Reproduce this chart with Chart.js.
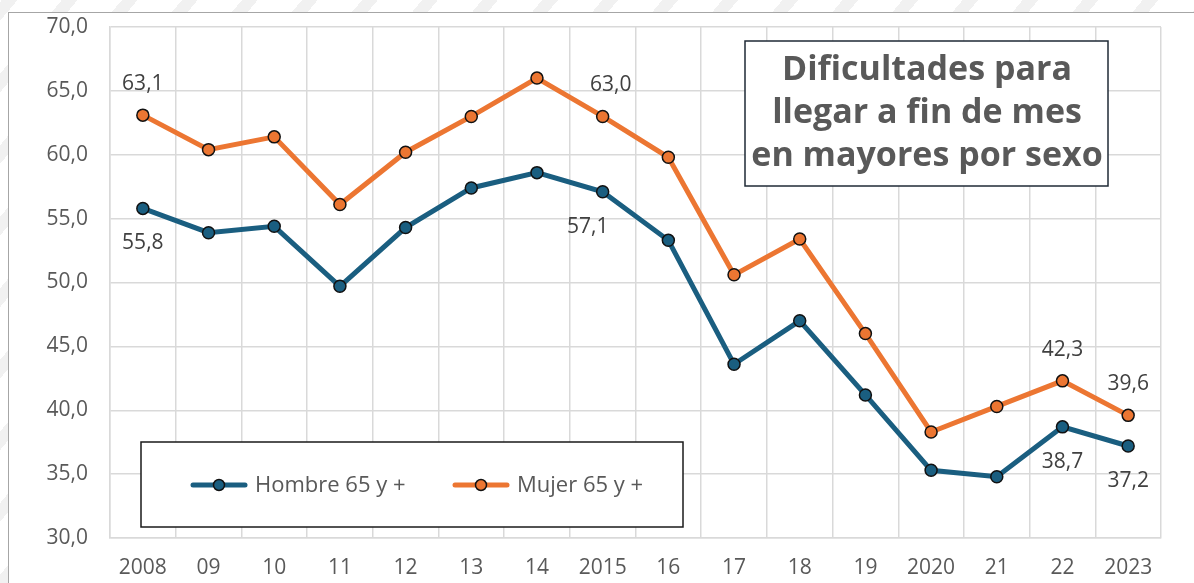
<!DOCTYPE html>
<html>
<head>
<meta charset="utf-8">
<script src="https://cdn.jsdelivr.net/npm/chart.js@4"></script>
<style>
  html, body { margin: 0; padding: 0; }
  body {
    width: 1194px; height: 583px; overflow: hidden;
    background: repeating-linear-gradient(-50deg, #ffffff 0 34px, #f1f1f1 34px 46px);
  }
  #wrap { position: absolute; left: 0; top: 0; width: 1194px; height: 583px; }
</style>
</head>
<body>
<div id="wrap"><canvas id="myChart" width="1194" height="583"></canvas></div>
<script>
// years on the x axis
const years = ["2008", "09", "10", "11", "12", "13", "14", "2015", "16", "17", "18", "19", "2020", "21", "22", "2023"];

// % with difficulties making ends meet
const hombre = [55.8, 53.9, 54.4, 49.7, 54.3, 57.4, 58.6, 57.1, 53.3, 43.6, 47.0, 41.2, 35.3, 34.8, 38.7, 37.2];
const mujer = [63.1, 60.4, 61.4, 56.1, 60.2, 63.0, 66.0, 63.0, 59.8, 50.6, 53.4, 46.0, 38.3, 40.3, 42.3, 39.6];

// which points carry a value label
const labeledPoints = [0, 7, 14, 15];

const seriesNames = ["Hombre 65 y +", "Mujer 65 y +"];
const titleLines = ["Dificultades para", "llegar a fin de mes", "en mayores por sexo"];

const blue = "#1a5e80";
const orange = "#ec7632";
const FONT = "'Open Sans', Arial, sans-serif";

function fmt(v) {
  return v.toFixed(1).replace(".", ",");
}

// white sheet + thin frame behind the chart
const framePlugin = {
  id: "frame",
  beforeDraw(chart) {
    const ctx = chart.ctx;
    ctx.save();
    ctx.fillStyle = "#ffffff";
    ctx.fillRect(8, 12, 1194, 583);
    ctx.strokeStyle = "#a6a6a6";
    ctx.lineWidth = 1;
    ctx.strokeRect(8.5, 12.5, 1194, 583);
    ctx.restore();
  },
};

// value labels, title box and legend box
const extrasPlugin = {
  id: "extras",
  afterDraw(chart) {
    const ctx = chart.ctx;
    const xs = chart.scales.x;
    const ys = chart.scales.y;

    ctx.save();
    ctx.font = "21px " + FONT;
    ctx.fillStyle = "#404040";
    ctx.textAlign = "center";
    ctx.textBaseline = "middle";
    labeledPoints.forEach((i) => {
      let x = xs.getPixelForValue(i);
      let dxUp = i == 7 ? 8 : 0;
      let dxDown = i == 7 ? -15 : 0;
      ctx.fillText(fmt(mujer[i]), x + dxUp, ys.getPixelForValue(mujer[i]) - 31);
      ctx.fillText(fmt(hombre[i]), x + dxDown, ys.getPixelForValue(hombre[i]) + 35);
    });

    // title box
    ctx.fillStyle = "#ffffff";
    ctx.fillRect(745, 41, 363, 145);
    ctx.strokeStyle = "#1f2a36";
    ctx.lineWidth = 1.5;
    ctx.strokeRect(745, 41, 363, 145);
    ctx.fillStyle = "#595959";
    ctx.font = "bold 34px " + FONT;
    titleLines.forEach((t, k) => {
      ctx.fillText(t, 927, 70 + k * 43);
    });

    // legend box
    ctx.fillStyle = "#ffffff";
    ctx.fillRect(141, 442, 542, 85);
    ctx.strokeStyle = "#1a1a1a";
    ctx.lineWidth = 1.5;
    ctx.strokeRect(141, 442, 542, 85);

    const items = [
      { x: 193, color: blue, name: seriesNames[0] },
      { x: 455, color: orange, name: seriesNames[1] },
    ];
    items.forEach((it) => {
      ctx.strokeStyle = it.color;
      ctx.lineWidth = 5;
      ctx.lineCap = "round";
      ctx.beginPath();
      ctx.moveTo(it.x, 485);
      ctx.lineTo(it.x + 52, 485);
      ctx.stroke();
      ctx.beginPath();
      ctx.arc(it.x + 26, 485, 5.5, 0, Math.PI * 2);
      ctx.fillStyle = it.color;
      ctx.fill();
      ctx.lineWidth = 1.5;
      ctx.strokeStyle = "#111111";
      ctx.stroke();
      ctx.fillStyle = "#595959";
      ctx.font = "22px " + FONT;
      ctx.textAlign = "left";
      ctx.fillText(it.name, it.x + 62, 486);
    });
    ctx.restore();
  },
};

new Chart("myChart", {
  type: "line",
  data: {
    labels: years,
    datasets: [
      {
        label: seriesNames[0],
        data: hombre,
        borderColor: blue,
        backgroundColor: blue,
        borderWidth: 5,
        pointRadius: 6,
        pointBorderColor: "#111111",
        pointBorderWidth: 1.5,
        pointBackgroundColor: blue,
        tension: 0,
        fill: false,
      },
      {
        label: seriesNames[1],
        data: mujer,
        borderColor: orange,
        backgroundColor: orange,
        borderWidth: 5,
        pointRadius: 6,
        pointBorderColor: "#111111",
        pointBorderWidth: 1.5,
        pointBackgroundColor: orange,
        tension: 0,
        fill: false,
      },
    ],
  },
  options: {
    responsive: false,
    animation: false,
    layout: { padding: { left: 0, top: 27, right: 33, bottom: 0 } },
    plugins: {
      legend: { display: false },
      tooltip: { enabled: false },
    },
    scales: {
      x: {
        offset: true,
        grid: { offset: true, color: "#d9d9d9", lineWidth: 1.5, drawTicks: false },
        border: { color: "#d9d9d9", width: 1.5 },
        ticks: {
          color: "#595959",
          font: { family: FONT, size: 21 },
          padding: 17,
          autoSkip: false,
          maxRotation: 0,
        },
        afterFit(scale) {
          scale.height = 45;
        },
      },
      y: {
        min: 30,
        max: 70,
        grid: { color: "#d9d9d9", lineWidth: 1.5, drawTicks: false },
        border: { color: "#d9d9d9", width: 1.5 },
        ticks: {
          stepSize: 5,
          color: "#595959",
          font: { family: FONT, size: 21 },
          padding: 22,
          callback: (v) => fmt(v),
        },
        afterFit(scale) {
          scale.width = 110;
          scale.paddingTop = 0;
          scale.paddingBottom = 0;
        },
      },
    },
  },
  plugins: [framePlugin, extrasPlugin],
});
</script>
</body>
</html>
